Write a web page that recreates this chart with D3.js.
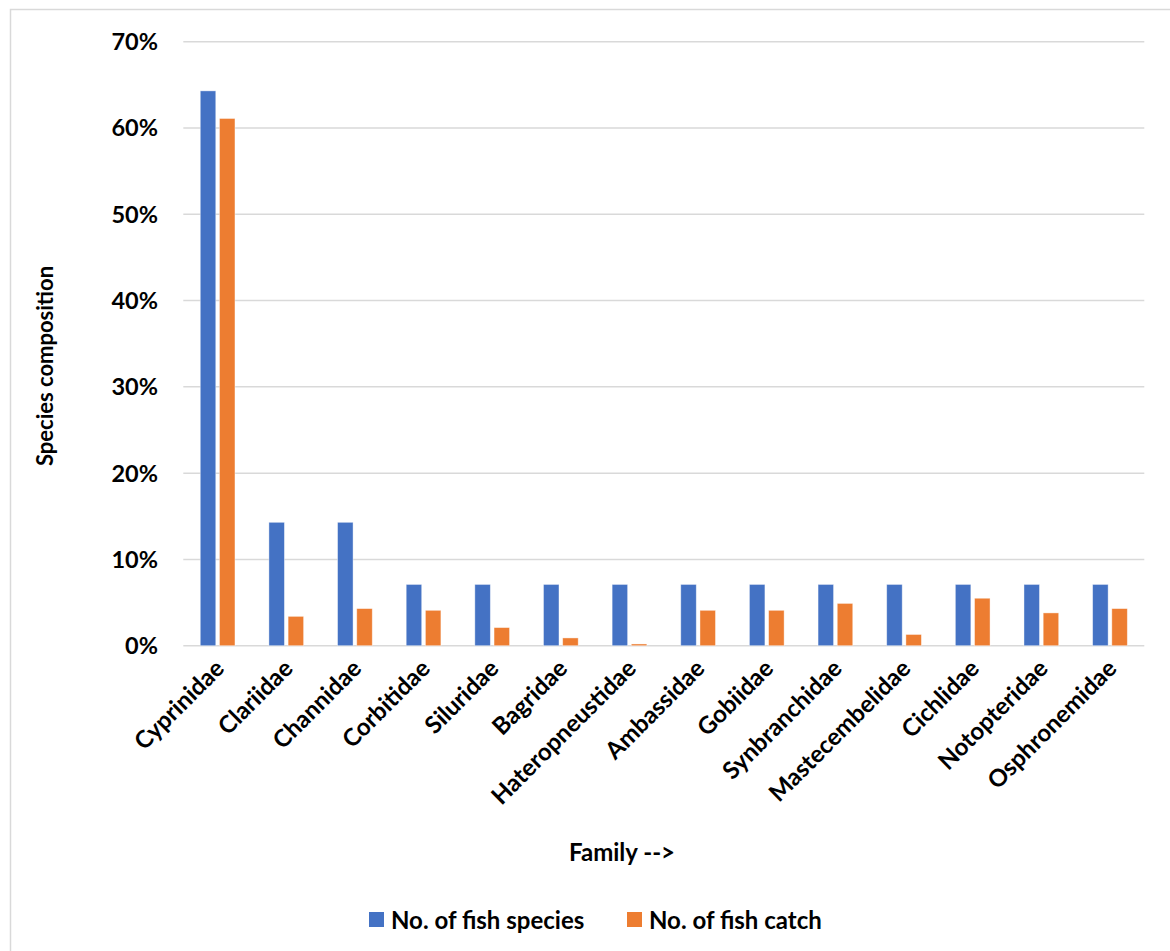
<!DOCTYPE html>
<html><head><meta charset="utf-8">
<script src="https://cdn.jsdelivr.net/npm/d3@7"></script>
<style>body{margin:0;background:#fff}svg{display:block}text{font-family:Lato,"Open Sans",sans-serif;font-weight:bold;fill:#000}</style>
</head><body>
<script>
const categories=["Cyprinidae","Clariidae","Channidae","Corbitidae","Siluridae","Bagridae","Hateropneustidae","Ambassidae","Gobiidae","Synbranchidae","Mastecembelidae","Cichlidae","Notopteridae","Osphronemidae"];
const speciesPct=[64.3,14.3,14.3,7.1,7.1,7.1,7.1,7.1,7.1,7.1,7.1,7.1,7.1,7.1];
const catchPct=[61.1,3.4,4.3,4.1,2.1,0.9,0.2,4.1,4.1,4.9,1.3,5.5,3.8,4.3];
const seriesNames=["No. of fish species","No. of fish catch"];
const colors=["#4472C4","#ED7D31"];
const yTicks=[0,10,20,30,40,50,60,70];

const W=1170,H=951;
const svg=d3.select("body").append("svg").attr("width",W).attr("height",H);
svg.append("rect").attr("x",10.5).attr("y",9.5).attr("width",W+20).attr("height",H+20).attr("fill","#fff").attr("stroke","#d9d9d9").attr("stroke-width",1.5);

const L=183.3,R=1144.3,T=41.7,B=645.7;
const x=d3.scaleBand().domain(categories).range([L,R]).paddingInner(0).paddingOuter(0);
const y=d3.scaleLinear().domain([0,70]).range([B,T]);
const bw=15.5,gap=3.7;

const g=svg.append("g");
g.selectAll("line.grid").data(yTicks).join("line").attr("class","grid")
 .attr("x1",L).attr("x2",R).attr("y1",d=>y(d)).attr("y2",d=>y(d))
 .attr("stroke","#d9d9d9").attr("stroke-width",1.5);
g.selectAll("text.yt").data(yTicks).join("text").attr("class","yt")
 .attr("x",158).attr("y",d=>y(d)).attr("dy","0.36em").attr("text-anchor","end")
 .attr("font-size",23.5).text(d=>d+"%");

const data=[speciesPct,catchPct];
data.forEach((vals,si)=>{
  g.selectAll("rect.s"+si).data(vals).join("rect").attr("class","s"+si)
   .attr("x",(d,i)=>x(categories[i])+x.bandwidth()/2-(bw+gap/2)+si*(bw+gap))
   .attr("width",bw)
   .attr("y",d=>y(d)).attr("height",d=>B-y(d))
   .attr("fill",colors[si]).attr("stroke","#fff").attr("stroke-opacity",0.5).attr("stroke-width",0.8);
});

g.selectAll("text.xl").data(categories).join("text").attr("class","xl")
 .attr("transform",d=>`translate(${x(d)+x.bandwidth()/2+8},${670}) rotate(-45)`)
 .attr("text-anchor","end").attr("font-size",24).text(d=>d);

svg.append("text").attr("transform","translate(53,366) rotate(-90)").attr("text-anchor","middle")
 .attr("font-size",22).text("Species composition");
svg.append("text").attr("x",622).attr("y",861).attr("text-anchor","middle").attr("font-size",24).text("Family -->");

const leg=svg.append("g");
const legX=[369,627];
seriesNames.forEach((n,i)=>{
  leg.append("rect").attr("x",legX[i]).attr("y",912).attr("width",15).attr("height",15).attr("fill",colors[i]);
  leg.append("text").attr("x",legX[i]+22).attr("y",920).attr("dy","0.36em").attr("font-size",24).text(n);
});
</script>
</body></html>
